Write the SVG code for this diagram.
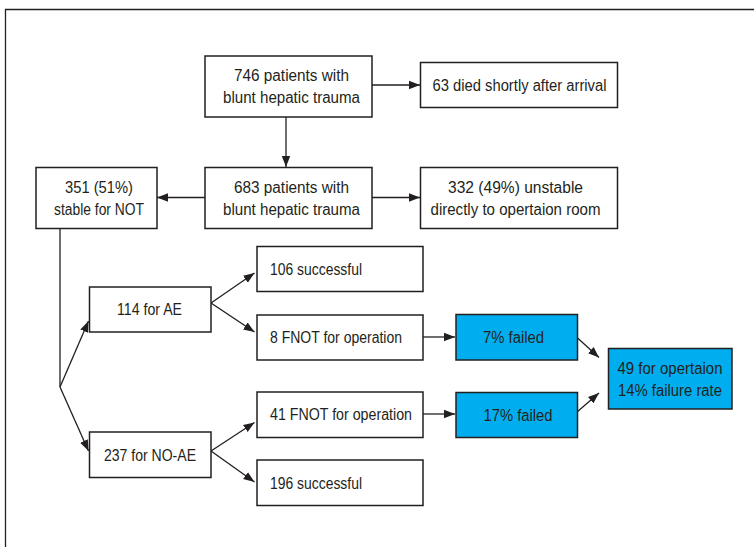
<svg xmlns="http://www.w3.org/2000/svg" width="754" height="547" viewBox="0 0 754 547">
<defs>
<marker id="ah" markerUnits="userSpaceOnUse" markerWidth="12" markerHeight="10" refX="11" refY="5" orient="auto">
<path d="M0,0.8 L11,5 L0,9.2 Z" fill="#231f20"/>
</marker>
<style>
.box{fill:#fff;stroke:#231f20;stroke-width:1.5}
.blue{fill:#00aeef;stroke:#231f20;stroke-width:1.5}
.t{font-family:"Liberation Sans",Arial,sans-serif;font-size:16px;fill:#231f20}
.c{text-anchor:middle}
.ln{fill:none;stroke:#231f20;stroke-width:1.3}
.ar{fill:none;stroke:#231f20;stroke-width:1.3;marker-end:url(#ah)}
</style>
</defs>
<rect width="754" height="547" fill="#fff"/>
<path d="M5.5,547 L5.5,9.5 L754,9.5" fill="none" stroke="#231f20" stroke-width="1.3"/>
<g id="connectors">
<path class="ar" d="M372,85 L420,85"/>
<path class="ar" d="M286,117 L286,167"/>
<path class="ar" d="M372,197.5 L420,197.5"/>
<path class="ar" d="M205,197.5 L157,197.5"/>
<path class="ln" d="M60,228.5 L60,387"/>
<path class="ar" d="M60,387 L88.5,321"/>
<path class="ar" d="M60,387 L88.5,451"/>
<path class="ar" d="M211,303 L254.5,273"/>
<path class="ar" d="M211,303 L254.5,332"/>
<path class="ar" d="M211,451 L254.5,422.5"/>
<path class="ar" d="M211,451 L254.5,482"/>
<path class="ar" d="M423,337 L455,337"/>
<path class="ar" d="M423,414 L455,414"/>
<path class="ar" d="M577,337.5 L599,357.5"/>
<path class="ar" d="M577,412 L599,393"/>
</g>
<g id="n746">
<rect class="box" x="205" y="56" width="167" height="61"/>
<text class="t c" x="291.5" y="81" textLength="115" lengthAdjust="spacingAndGlyphs">746 patients with</text>
<text class="t c" x="291.5" y="103" textLength="137" lengthAdjust="spacingAndGlyphs">blunt hepatic trauma</text>
</g>
<g id="n63">
<rect class="box" x="420.5" y="62.5" width="197" height="45"/>
<text class="t c" x="519.5" y="90.5" textLength="174" lengthAdjust="spacingAndGlyphs">63 died shortly after arrival</text>
</g>
<g id="n683">
<rect class="box" x="205" y="167.5" width="167" height="61"/>
<text class="t c" x="291.5" y="192.5" textLength="115" lengthAdjust="spacingAndGlyphs">683 patients with</text>
<text class="t c" x="291.5" y="214.5" textLength="137" lengthAdjust="spacingAndGlyphs">blunt hepatic trauma</text>
</g>
<g id="n351">
<rect class="box" x="36" y="167.5" width="121" height="61"/>
<text class="t c" x="99" y="192.5" textLength="68" lengthAdjust="spacingAndGlyphs">351 (51%)</text>
<text class="t c" x="99" y="214.5" textLength="90" lengthAdjust="spacingAndGlyphs">stable for NOT</text>
</g>
<g id="n332">
<rect class="box" x="420.5" y="167.5" width="197" height="61"/>
<text class="t c" x="515.5" y="192.5" textLength="135" lengthAdjust="spacingAndGlyphs">332 (49%) unstable</text>
<text class="t c" x="515.5" y="214.5" textLength="170" lengthAdjust="spacingAndGlyphs">directly to opertaion room</text>
</g>
<g id="n114">
<rect class="box" x="89.5" y="287" width="121.5" height="45"/>
<text class="t c" x="149.5" y="315" textLength="65" lengthAdjust="spacingAndGlyphs">114 for AE</text>
</g>
<g id="n106">
<rect class="box" x="257" y="246.5" width="166" height="45"/>
<text class="t" x="270" y="275" textLength="92" lengthAdjust="spacingAndGlyphs">106 successful</text>
</g>
<g id="n8">
<rect class="box" x="257" y="315" width="166" height="45"/>
<text class="t" x="270" y="343" textLength="132" lengthAdjust="spacingAndGlyphs">8 FNOT for operation</text>
</g>
<g id="n7">
<rect class="blue" x="456" y="314.5" width="121.5" height="45.5"/>
<text class="t c" x="513.5" y="343" textLength="61" lengthAdjust="spacingAndGlyphs">7% failed</text>
</g>
<g id="n49">
<rect class="blue" x="608.5" y="348.5" width="123.5" height="60.5"/>
<text class="t c" x="670" y="373.5" textLength="105" lengthAdjust="spacingAndGlyphs">49 for opertaion</text>
<text class="t c" x="670" y="395.5" textLength="104" lengthAdjust="spacingAndGlyphs">14% failure rate</text>
</g>
<g id="n41">
<rect class="box" x="257" y="392" width="166" height="45.5"/>
<text class="t" x="270" y="420" textLength="142" lengthAdjust="spacingAndGlyphs">41 FNOT for operation</text>
</g>
<g id="n17">
<rect class="blue" x="456" y="392.5" width="121.5" height="45"/>
<text class="t c" x="518" y="420.5" textLength="69" lengthAdjust="spacingAndGlyphs">17% failed</text>
</g>
<g id="n237">
<rect class="box" x="89.5" y="432" width="121.5" height="45.5"/>
<text class="t c" x="150" y="460.5" textLength="92" lengthAdjust="spacingAndGlyphs">237 for NO-AE</text>
</g>
<g id="n196">
<rect class="box" x="257" y="460" width="166" height="45.5"/>
<text class="t" x="270" y="488.5" textLength="92" lengthAdjust="spacingAndGlyphs">196 successful</text>
</g>
</svg>
